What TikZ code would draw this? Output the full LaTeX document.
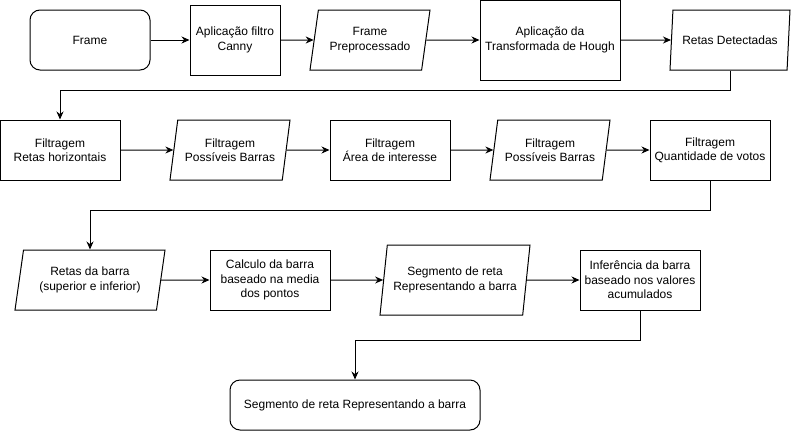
\documentclass[tikz,border=0pt]{standalone}
\usepackage{fontspec}
\setmainfont{Liberation Sans}
\usetikzlibrary{shapes.geometric, arrows.meta, positioning}

\begin{document}
\begin{tikzpicture}[
  x=1pt, y=-1pt, line width=1pt,
  every node/.style={font=\fontsize{12}{14.4}\selectfont, align=center, inner sep=0pt},
  procbox/.style={draw, rectangle, minimum width=120pt, minimum height=60pt},
  termbox/.style={draw, rectangle, rounded corners=10pt, minimum width=120pt, minimum height=60pt},
  databox/.style={draw, trapezium, trapezium stretches body, trapezium left angle=71.57,
    trapezium right angle=108.43, minimum width=120pt, minimum height=60pt},
  arr/.style={-{Stealth[length=8pt, width=7pt]}}
]
  \useasboundingbox (0,0) rectangle (791,431);

  \node[termbox] (frame) at (90,40) {Frame};
  \node[procbox, minimum width=90pt, minimum height=70pt] (canny) at (235,40) {Aplicação filtro\\Canny};
  \node[databox] (prep) at (370,40) {Frame\\Preprocessado};
  \node[procbox, minimum width=140pt, minimum height=80pt] (hough) at (550,40) {Aplicação da\\Transformada de Hough};
  \node[databox] (detect) at (730,40) {Retas Detectadas};

  \node[procbox] (horiz) at (60,150) {Filtragem\\Retas horizontais};
  \node[databox] (possA) at (230,150) {Filtragem\\Possíveis Barras};
  \node[procbox] (area) at (390,150) {Filtragem\\Área de interesse};
  \node[databox] (possB) at (550,150) {Filtragem\\Possíveis Barras};
  \node[procbox] (votos) at (710,150) {Filtragem\\Quantidade de votos};

  \node[databox, minimum width=150pt] (retbar) at (90,280) {Retas da barra\\(superior e inferior)};
  \node[procbox] (calc) at (270,280) {Calculo da barra\\baseado na media\\dos pontos};
  \node[databox, minimum width=150pt, minimum height=70pt, trapezium left angle=74.05,
    trapezium right angle=105.95] (seg) at (455,280) {Segmento de reta\\Representando a barra};
  \node[procbox] (infer) at (640,280) {Inferência da barra\\baseado nos valores\\acumulados};

  \node[termbox, minimum width=250pt, minimum height=50pt] (final) at (355,405) {Segmento de reta Representando a barra};

  \draw[arr] (frame) -- (canny);
  \draw[arr] (canny) -- (prep);
  \draw[arr] (prep) -- (hough);
  \draw[arr] (hough) -- (detect);
  \draw[arr] (detect.south) -- ++(0,20) -| (horiz.north);
  \draw[arr] (horiz) -- (possA);
  \draw[arr] (possA) -- (area);
  \draw[arr] (area) -- (possB);
  \draw[arr] (possB) -- (votos);
  \draw[arr] (votos.south) -- ++(0,30) -| (retbar.north);
  \draw[arr] (retbar) -- (calc);
  \draw[arr] (calc) -- (seg);
  \draw[arr] (seg) -- (infer);
  \draw[arr] (infer.south) -- ++(0,30) -| (final.north);
\end{tikzpicture}
\end{document}
